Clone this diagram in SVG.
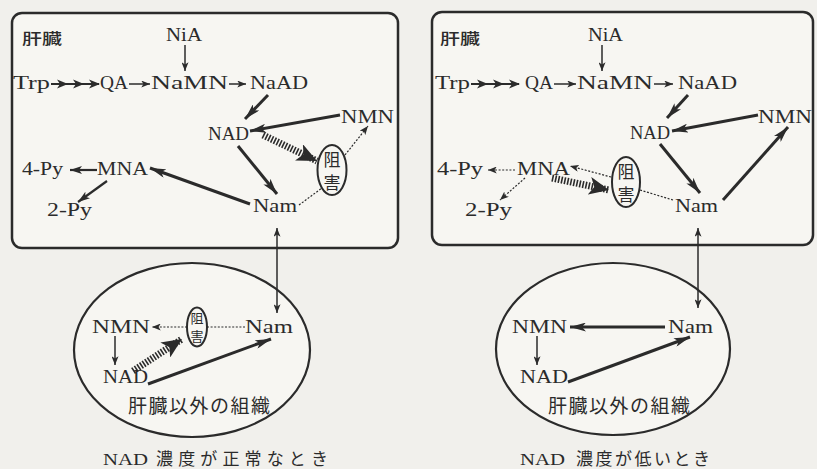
<svg xmlns="http://www.w3.org/2000/svg" width="817" height="469" viewBox="0 0 817 469">
  <style>
    .bg { fill: #f1f0ec; }
    .box { fill: #f7f6f2; stroke: #2b2b2b; stroke-width: 2.5; }
    .oval { fill: #f7f6f2; stroke: #2b2b2b; stroke-width: 2.2; }
    .inh { fill: #f7f6f2; stroke: #2b2b2b; stroke-width: 2; }
    .lbl { font-family: "Liberation Serif", "DejaVu Serif", serif; font-size: 18px; fill: #2b2b2b; }
    .jp { font-family: "Noto Sans CJK JP", sans-serif; fill: #2b2b2b; }
    .organ { font-size: 15px; font-weight: 500; }
    .blk { font-size: 17px; text-anchor: middle; }
    .tis { font-size: 19px; }
    .cap { font-size: 17px; }
    .thin { stroke: #2b2b2b; stroke-width: 1.5; fill: none; marker-end: url(#ah-s); }
    .mid { stroke: #2b2b2b; stroke-width: 2.2; fill: none; marker-end: url(#ah-m); }
    .thick { stroke: #2b2b2b; stroke-width: 3; fill: none; marker-end: url(#ah-l); }
    .dot { stroke: #2b2b2b; stroke-width: 1.2; stroke-dasharray: 2 1.6; fill: none; }
    .dota { stroke: #2b2b2b; stroke-width: 1.2; stroke-dasharray: 2 1.6; fill: none; marker-end: url(#ah-s); }
    .hatch { stroke: #2b2b2b; stroke-width: 7; stroke-dasharray: 1.6 1.5; fill: none; marker-end: url(#ah-h); }
    .both { stroke: #2b2b2b; stroke-width: 1.5; fill: none; marker-start: url(#ah-s); marker-end: url(#ah-s); }
    .head { fill: #2b2b2b; }
  </style>
  <defs>
    <marker id="ah-s" viewBox="0 0 10 8" markerWidth="9" markerHeight="7" refX="10" refY="4" orient="auto-start-reverse" markerUnits="userSpaceOnUse">
      <path d="M0,0 L10,4 L0,8 L2.5,4 z" fill="#2b2b2b"/>
    </marker>
    <marker id="ah-m" viewBox="0 0 12 8" markerWidth="12" markerHeight="8" refX="12" refY="4" orient="auto" markerUnits="userSpaceOnUse">
      <path d="M0,0 L12,4 L0,8 L3,4 z" fill="#2b2b2b"/>
    </marker>
    <marker id="ah-l" viewBox="0 0 16 9" markerWidth="16" markerHeight="9" refX="16" refY="4.5" orient="auto" markerUnits="userSpaceOnUse">
      <path d="M0,0 L16,4.5 L0,9 L4,4.5 z" fill="#2b2b2b"/>
    </marker>
    <marker id="ah-h" viewBox="0 0 20 18" markerWidth="20" markerHeight="18" refX="20" refY="9" orient="auto" markerUnits="userSpaceOnUse">
      <path d="M0,0 L20,9 L0,18 L5,9 z" fill="#2b2b2b"/>
    </marker>
    <!-- three chained heads used for the multi-step Trp → QA conversion -->
    <g id="triple">
      <line x1="0" y1="0" x2="48" y2="0" stroke="#2b2b2b" stroke-width="2"/>
      <path class="head" d="M6,-4.5 L17,0 L6,4.5 L9,0 z"/>
      <path class="head" d="M22,-4.5 L33,0 L22,4.5 L25,0 z"/>
      <path class="head" d="M38,-4.5 L49,0 L38,4.5 L41,0 z"/>
    </g>
  </defs>

  <rect class="bg" x="0" y="0" width="817" height="469"/>

  <!-- ===== Left panel: normal NAD level ===== -->
  <g id="liver-normal">
    <rect class="box" x="12" y="13" width="386" height="235" rx="10"/>
    <text class="jp organ" x="22" y="44" textLength="40" lengthAdjust="spacingAndGlyphs">肝臓</text>
  </g>
  <g id="n-NiA"><text class="lbl" x="166" y="41" textLength="36" lengthAdjust="spacingAndGlyphs">NiA</text></g>
  <g id="n-Trp"><text class="lbl" x="13" y="89" textLength="37" lengthAdjust="spacingAndGlyphs">Trp</text></g>
  <g id="n-QA"><text class="lbl" x="100" y="89" textLength="28" lengthAdjust="spacingAndGlyphs">QA</text></g>
  <g id="n-NaMN"><text class="lbl" x="151" y="89" textLength="77" lengthAdjust="spacingAndGlyphs">NaMN</text></g>
  <g id="n-NaAD"><text class="lbl" x="250" y="89" textLength="58" lengthAdjust="spacingAndGlyphs">NaAD</text></g>
  <g id="n-NMN"><text class="lbl" x="341" y="123" textLength="53" lengthAdjust="spacingAndGlyphs">NMN</text></g>
  <g id="n-NAD"><text class="lbl" x="208" y="140" textLength="41" lengthAdjust="spacingAndGlyphs">NAD</text></g>
  <g id="n-MNA"><text class="lbl" x="97" y="175" textLength="51" lengthAdjust="spacingAndGlyphs">MNA</text></g>
  <g id="n-4Py"><text class="lbl" x="22" y="175" textLength="41" lengthAdjust="spacingAndGlyphs">4-Py</text></g>
  <g id="n-2Py"><text class="lbl" x="47" y="216" textLength="45" lengthAdjust="spacingAndGlyphs">2-Py</text></g>
  <g id="n-Nam"><text class="lbl" x="253" y="212" textLength="44" lengthAdjust="spacingAndGlyphs">Nam</text></g>
  <g id="n-block">
    <ellipse class="inh" cx="332" cy="170" rx="14.5" ry="25"/>
    <text class="jp blk" x="332" y="166">阻</text>
    <text class="jp blk" x="332" y="189">害</text>
  </g>

  <g id="tissue-normal">
    <ellipse class="oval" cx="192" cy="350" rx="118" ry="87"/>
    <text class="jp tis" x="128" y="413" textLength="142" lengthAdjust="spacing">肝臓以外の組織</text>
  </g>
  <g id="t-NMN"><text class="lbl" x="92" y="333" textLength="58" lengthAdjust="spacingAndGlyphs">NMN</text></g>
  <g id="t-Nam"><text class="lbl" x="245" y="333" textLength="48" lengthAdjust="spacingAndGlyphs">Nam</text></g>
  <g id="t-NAD"><text class="lbl" x="103" y="383" textLength="45" lengthAdjust="spacingAndGlyphs">NAD</text></g>
  <g id="t-block">
    <ellipse class="inh" cx="197" cy="327" rx="10" ry="19.5"/>
    <text class="jp blk" x="197" y="322.5" style="font-size:13px">阻</text>
    <text class="jp blk" x="197" y="341" style="font-size:13px">害</text>
  </g>

  <g id="cap-normal">
    <text class="lbl" x="103" y="465" textLength="45" lengthAdjust="spacingAndGlyphs" style="font-size:16px">NAD</text>
    <text class="jp cap" x="156" y="465" textLength="172" lengthAdjust="spacing">濃度が正常なとき</text>
  </g>

  <!-- ===== Right panel: low NAD level ===== -->
  <g id="liver-low">
    <rect class="box" x="432" y="12" width="381" height="233" rx="10"/>
    <text class="jp organ" x="440" y="44" textLength="40" lengthAdjust="spacingAndGlyphs">肝臓</text>
  </g>
  <g id="m-NiA"><text class="lbl" x="588" y="41" textLength="35" lengthAdjust="spacingAndGlyphs">NiA</text></g>
  <g id="m-Trp"><text class="lbl" x="435" y="89" textLength="35" lengthAdjust="spacingAndGlyphs">Trp</text></g>
  <g id="m-QA"><text class="lbl" x="525" y="89" textLength="28" lengthAdjust="spacingAndGlyphs">QA</text></g>
  <g id="m-NaMN"><text class="lbl" x="577" y="89" textLength="76" lengthAdjust="spacingAndGlyphs">NaMN</text></g>
  <g id="m-NaAD"><text class="lbl" x="678" y="89" textLength="59" lengthAdjust="spacingAndGlyphs">NaAD</text></g>
  <g id="m-NMN"><text class="lbl" x="758" y="123" textLength="54" lengthAdjust="spacingAndGlyphs">NMN</text></g>
  <g id="m-NAD"><text class="lbl" x="630" y="139" textLength="40" lengthAdjust="spacingAndGlyphs">NAD</text></g>
  <g id="m-MNA"><text class="lbl" x="517" y="175" textLength="53" lengthAdjust="spacingAndGlyphs">MNA</text></g>
  <g id="m-4Py"><text class="lbl" x="437" y="175" textLength="46" lengthAdjust="spacingAndGlyphs">4-Py</text></g>
  <g id="m-2Py"><text class="lbl" x="465" y="216" textLength="47" lengthAdjust="spacingAndGlyphs">2-Py</text></g>
  <g id="m-Nam"><text class="lbl" x="675" y="212" textLength="43" lengthAdjust="spacingAndGlyphs">Nam</text></g>
  <g id="m-block">
    <ellipse class="inh" cx="626" cy="182" rx="14" ry="25"/>
    <text class="jp blk" x="626" y="178">阻</text>
    <text class="jp blk" x="626" y="201">害</text>
  </g>

  <g id="tissue-low">
    <ellipse class="oval" cx="613" cy="349" rx="117" ry="86"/>
    <text class="jp tis" x="548" y="413" textLength="142" lengthAdjust="spacing">肝臓以外の組織</text>
  </g>
  <g id="u-NMN"><text class="lbl" x="512" y="333" textLength="55" lengthAdjust="spacingAndGlyphs">NMN</text></g>
  <g id="u-Nam"><text class="lbl" x="668" y="333" textLength="45" lengthAdjust="spacingAndGlyphs">Nam</text></g>
  <g id="u-NAD"><text class="lbl" x="520" y="383" textLength="48" lengthAdjust="spacingAndGlyphs">NAD</text></g>

  <g id="cap-low">
    <text class="lbl" x="520" y="465" textLength="45" lengthAdjust="spacingAndGlyphs" style="font-size:16px">NAD</text>
    <text class="jp cap" x="576" y="465" textLength="134" lengthAdjust="spacing">濃度が低いとき</text>
  </g>

  <!-- ===== Connectors ===== -->
  <g id="connectors">
    <!-- left liver -->
    <line class="thin" x1="185" y1="45" x2="185" y2="71"/>
    <use href="#triple" x="51" y="84"/>
    <line class="thin" x1="129" y1="84" x2="150" y2="84"/>
    <line class="thin" x1="229" y1="84" x2="246" y2="84"/>
    <line class="thick" x1="268" y1="95" x2="245" y2="119"/>
    <line class="thick" x1="340" y1="115" x2="250" y2="131"/>
    <line class="thick" x1="238" y1="146" x2="277" y2="194"/>
    <line class="thick" x1="250" y1="204" x2="150" y2="168"/>
    <line class="mid" x1="97" y1="170" x2="70" y2="170"/>
    <line class="mid" x1="107" y1="181" x2="78" y2="202"/>
    <line class="hatch" x1="263" y1="135" x2="317" y2="161"/>
    <line class="dota" x1="345" y1="155" x2="368" y2="126"/>
    <line class="dot" x1="299" y1="205" x2="322" y2="188"/>
    <line class="both" x1="277" y1="228" x2="277" y2="313"/>
    <!-- left tissue -->
    <line class="dota" x1="187" y1="327" x2="152" y2="327"/>
    <line class="dot" x1="207" y1="327" x2="245" y2="327"/>
    <line class="thin" x1="115" y1="336" x2="115" y2="365"/>
    <line class="hatch" x1="133" y1="371" x2="182" y2="339"/>
    <line class="thick" x1="148" y1="384" x2="271" y2="339"/>

    <!-- right liver -->
    <line class="thin" x1="602" y1="45" x2="602" y2="71"/>
    <use href="#triple" x="471" y="84"/>
    <line class="thin" x1="554" y1="84" x2="576" y2="84"/>
    <line class="thin" x1="654" y1="84" x2="673" y2="84"/>
    <line class="thick" x1="688" y1="95" x2="667" y2="118"/>
    <line class="thick" x1="758" y1="115" x2="672" y2="131"/>
    <line class="thick" x1="660" y1="144" x2="700" y2="193"/>
    <line class="thick" x1="723" y1="200" x2="788" y2="127"/>
    <line class="dota" x1="515" y1="170" x2="488" y2="170"/>
    <line class="dota" x1="525" y1="178" x2="500" y2="200"/>
    <line class="hatch" x1="552" y1="178" x2="609" y2="190"/>
    <line class="dota" x1="611" y1="177" x2="570" y2="166"/>
    <line class="dot" x1="673" y1="200" x2="640" y2="190"/>
    <line class="both" x1="698" y1="228" x2="698" y2="308"/>
    <!-- right tissue -->
    <line class="thick" x1="665" y1="327" x2="570" y2="327"/>
    <line class="thin" x1="537" y1="336" x2="537" y2="365"/>
    <line class="thick" x1="568" y1="382" x2="690" y2="337"/>
  </g>
</svg>
